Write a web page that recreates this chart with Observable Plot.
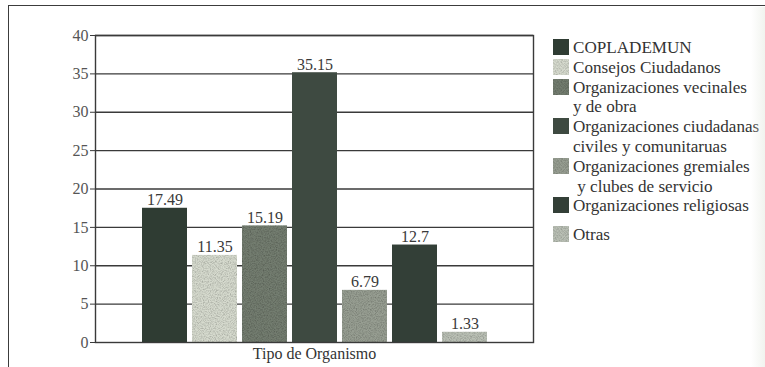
<!DOCTYPE html>
<html>
<head>
<meta charset="utf-8">
<script src="https://cdn.jsdelivr.net/npm/d3@7"></script>
<script src="https://cdn.jsdelivr.net/npm/@observablehq/plot@0.6"></script>
<style>
  html, body { margin: 0; padding: 0; background: #fff; }
  #fig { position: relative; width: 765px; height: 367px; overflow: hidden;
         font-family: "Liberation Serif", "Times New Roman", Times, "DejaVu Serif", serif; }
  #box { position: absolute; left: 8px; top: 5px; right: -4px; bottom: -4px;
         border-top: 1.5px solid #3c3c3c; border-left: 1.5px solid #3c3c3c; }
  #edge { position: absolute; top: 7px; right: 0; width: 14px; bottom: 0;
          background: linear-gradient(to right, rgba(232,236,228,0), rgba(232,236,228,0.6)); }
  #chart { position: absolute; left: 0; top: 0; }
  #legend { position: absolute; left: 553px; top: 38px; font-size: 17.1px; color: #333; }
  .row { height: 19.8px; line-height: 19.8px; white-space: pre; }
  .sw { display: inline-block; width: 16px; height: 16px; margin-right: 4px; vertical-align: -2px; }
  .cont { padding-left: 20px; }
  .late { margin-top: 9px; }
</style>
</head>
<body>
<svg width="0" height="0" style="position:absolute">
  <defs>
    <filter id="grain" x="0" y="0" width="1" height="1">
      <feTurbulence type="fractalNoise" baseFrequency="0.85" numOctaves="2" seed="7" result="noise"/>
      <feColorMatrix in="noise" type="matrix"
        values="0 0 0 0 0  0 0 0 0 0  0 0 0 0 0  0.9 0 0 0 -0.34" result="specks"/>
      <feComposite in="specks" in2="SourceGraphic" operator="in" result="clipped"/>
      <feMerge><feMergeNode in="SourceGraphic"/><feMergeNode in="clipped"/></feMerge>
    </filter>
  </defs>
</svg>
<div id="fig">
  <div id="box"></div>
  <div id="chart"></div>
  <div id="legend"></div>
  <div id="edge"></div>
</div>
<script>
// Participation by type of organism (%)
const categories = [
  "COPLADEMUN",
  "Consejos Ciudadanos",
  "Organizaciones vecinales y de obra",
  "Organizaciones ciudadanas civiles y comunitaruas",
  "Organizaciones gremiales y clubes de servicio",
  "Organizaciones religiosas",
  "Otras"
];
const values = [17.49, 11.35, 15.19, 35.15, 6.79, 12.7, 1.33];
const valueLabels = ["17.49", "11.35", "15.19", "35.15", "6.79", "12.7", "1.33"];
const colors = ["#2f3c33", "#d6dace", "#737d70", "#3e4a41", "#979e92", "#333f37", "#bac0b5"];
const legendLines = [
  ["COPLADEMUN"],
  ["Consejos Ciudadanos"],
  ["Organizaciones vecinales", "y de obra"],
  ["Organizaciones ciudadanas", "civiles y comunitaruas"],
  ["Organizaciones gremiales", " y clubes de servicio"],
  ["Organizaciones religiosas"],
  ["Otras"]
];
const yTicks = [0, 5, 10, 15, 20, 25, 30, 35, 40];
const xTitle = "Tipo de Organismo";

// Lighter fills are printed with a stippled screen
const stippled = new Set([categories[1], categories[2], categories[4], categories[6]]);

const data = categories.map((c, i) => ({ c, v: values[i], label: valueLabels[i] }));
const ink = "#3a3a3a";
const serif = "'Liberation Serif', 'Times New Roman', Times, 'DejaVu Serif', serif";

const chart = Plot.plot({
  width: 765,
  height: 367,
  marginLeft: 95,
  marginRight: 232,
  marginTop: 35,
  marginBottom: 25,
  style: { fontFamily: serif, fontSize: "16px", background: "transparent", color: "#4a4a4a" },
  x: { domain: categories, paddingInner: 0.1, paddingOuter: 0.93, axis: null },
  y: { domain: [0, 40], ticks: yTicks, axis: null },
  color: { domain: categories, range: colors },
  marks: [
    Plot.ruleY(yTicks.filter(t => t > 0), { stroke: ink, strokeWidth: 1.4 }),
    Plot.barY(data, { x: "c", y: "v", fill: "c" }),
    Plot.text(data, { x: "c", y: "v", text: "label", lineAnchor: "bottom", dy: -3, fontSize: 16, fill: ink }),
    Plot.axisY({ ticks: yTicks, tickSize: 5, tickPadding: 2, fontSize: 16, fill: "#555", stroke: ink, label: null }),
    Plot.frame({ stroke: ink, strokeWidth: 1.4 }),
    Plot.text([xTitle], { frameAnchor: "bottom", lineAnchor: "top", dy: 5, fontSize: 16, fill: "#333" })
  ]
});
document.getElementById("chart").append(chart);

// Apply the stipple screen to the lighter bars
d3.select(chart).selectAll("g[aria-label='bar'] rect").each(function (_, i) {
  if (stippled.has(data[i].c)) d3.select(this).attr("filter", "url(#grain)");
});

// Legend: swatch per organism type, wrapped names continue on a second line
const legend = d3.select("#legend");
legendLines.forEach((lines, i) => {
  lines.forEach((txt, j) => {
    const cls = ["row"];
    if (j > 0) cls.push("cont");
    if (j === 0 && i === legendLines.length - 1) cls.push("late");
    const row = legend.append("div").attr("class", cls.join(" "));
    if (j === 0) {
      const sw = row.append("span").attr("class", "sw").style("background", colors[i]);
      if (stippled.has(categories[i])) sw.style("filter", "url(#grain)");
    }
    row.append("span").text(txt);
  });
});
</script>
</body>
</html>
